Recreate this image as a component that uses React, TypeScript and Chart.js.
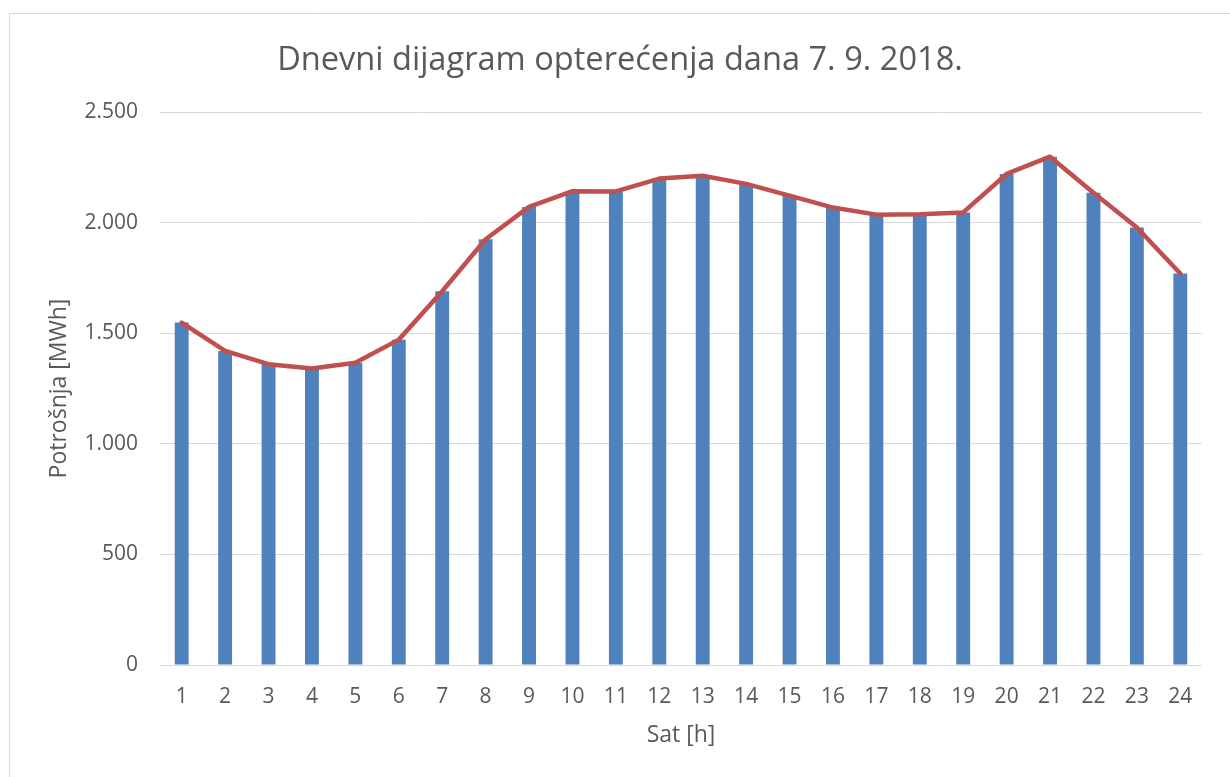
import React, { useEffect, useRef } from "react";
import { Chart, registerables } from "chart.js";

Chart.register(...registerables);

const sati: string[] = ["1", "2", "3", "4", "5", "6", "7", "8", "9", "10", "11", "12", "13", "14", "15", "16", "17", "18", "19", "20", "21", "22", "23", "24"];
const potrosnja: number[] = [1548, 1420, 1360, 1340, 1366, 1471, 1690, 1925, 2071, 2142, 2141, 2199, 2212, 2175, 2122, 2068, 2036, 2038, 2046, 2220, 2298, 2135, 1978, 1770];
const yMin = 0;
const yMax = 2500;
const yStep = 500;

const naslov = "Dnevni dijagram opterećenja dana 7. 9. 2018.";
const yNaslov = "Potrošnja [MWh]";
const xNaslov = "Sat [h]";

const TEXT = "#595959";
const GRID = "#D9D9D9";
const FONT = "'Open Sans', 'Noto Sans', sans-serif";

const fmt = (v: number) => String(v).replace(/\B(?=(\d{3})+(?!\d))/g, ".");

const borderPlugin = {
  id: "outerBorder",
  beforeDraw(chart: any) {
    const ctx = chart.ctx;
    ctx.save();
    ctx.strokeStyle = GRID;
    ctx.lineWidth = 1;
    ctx.beginPath();
    ctx.moveTo(9.5, chart.height);
    ctx.lineTo(9.5, 13.5);
    ctx.lineTo(chart.width, 13.5);
    ctx.stroke();
    ctx.restore();
  },
};

export default function App() {
  const ref = useRef<HTMLCanvasElement | null>(null);
  useEffect(() => {
    if (!ref.current) return;
    const chart = new Chart(ref.current, {
      type: "bar",
      data: {
        labels: sati,
        datasets: [
          {
            type: "line",
            label: "Linija",
            data: potrosnja,
            borderColor: "#C0504D",
            backgroundColor: "#C0504D",
            borderWidth: 4.5,
            pointRadius: 0,
            tension: 0,
            borderJoinStyle: "round",
            borderCapStyle: "round",
            order: 0,
          } as any,
          {
            type: "bar",
            label: "Potrošnja",
            data: potrosnja,
            backgroundColor: "#4F81BD",
            borderWidth: 0,
            categoryPercentage: 1,
            barPercentage: 0.32,
            order: 1,
          },
        ],
      },
      options: {
        animation: false,
        responsive: false,
        maintainAspectRatio: false,
        layout: { padding: { left: 10, right: 0, top: 0, bottom: 0 } },
        plugins: {
          legend: { display: false },
          tooltip: { enabled: false },
          title: {
            display: true,
            text: naslov,
            color: TEXT,
            font: { family: FONT, size: 32.6, weight: "normal", lineHeight: 1.2 },
            padding: { top: 41.5, bottom: 31.4 },
          },
        },
        scales: {
          x: {
            grid: { display: false, drawTicks: false },
            border: { display: false },
            ticks: {
              color: TEXT,
              font: { family: FONT, size: 21 },
              padding: 19,
              maxRotation: 0,
              autoSkip: false,
            },
            title: {
              display: true,
              text: xNaslov,
              color: TEXT,
              font: { family: FONT, size: 23, lineHeight: 1.2 },
              padding: { top: 0, bottom: 28 },
            },
            afterFit: (s: any) => {
              s.height = 112;
            },
          },
          y: {
            min: yMin,
            max: yMax,
            grid: { color: GRID, lineWidth: 1, drawTicks: false },
            border: { display: false },
            ticks: {
              stepSize: yStep,
              color: TEXT,
              font: { family: FONT, size: 21 },
              padding: 22,
              callback: (v: any) => fmt(Number(v)),
            },
            title: {
              display: true,
              text: yNaslov,
              color: TEXT,
              font: { family: FONT, size: 23, lineHeight: 1.2 },
              padding: { top: 36, bottom: 0 },
            },
            afterFit: (s: any) => {
              s.width = 150;
            },
          },
          desno: {
            position: "right",
            display: true,
            grid: { display: false, drawTicks: false },
            border: { display: false },
            ticks: { display: false },
            afterFit: (s: any) => {
              s.width = 28;
            },
          },
        },
      },
      plugins: [borderPlugin],
    });
    return () => chart.destroy();
  }, []);
  return (
    <div style={{ position: "absolute", left: 0, top: 0, width: 1230, height: 777, background: "#fff" }}>
      <canvas ref={ref} width={1230} height={777} style={{ display: "block" }} />
    </div>
  );
}
